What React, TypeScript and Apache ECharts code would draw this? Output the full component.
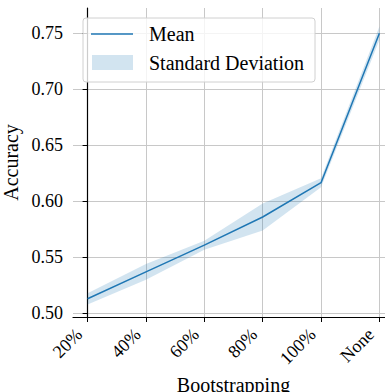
import React, { useEffect, useRef } from "react";
import * as echarts from "echarts";

const categories = ["20%", "40%", "60%", "80%", "100%", "None"];
const meanValues = [0.5125, 0.5366, 0.5605, 0.5857, 0.6164, 0.7502];
const stdValues = [0.005, 0.007, 0.004, 0.012, 0.004, 0.006];
const yTicks = [0.5, 0.55, 0.6, 0.65, 0.7, 0.75];

const FONT = "Liberation Serif";
const BLUE = "#1f77b4";

export default function App() {
  const ref = useRef<HTMLDivElement>(null);
  useEffect(() => {
    document.body.style.margin = "0";
    const chart = echarts.init(ref.current!, null, { renderer: "svg" });
    const xIdx = categories.map((_, i) => i);
    const bandData = meanValues.map((m, i) => [i, m - stdValues[i], m + stdValues[i]]);
    const mean = meanValues.map((m, i) => [i, m]);
    chart.setOption({
      animation: false,
      grid: {
        left: 73,
        top: 8,
        right: -9,
        bottom: 75,
        containLabel: false,
        outerBoundsMode: "none",
      },
      xAxis: {
        type: "value",
        min: -0.25,
        max: 5.25,
        name: "Bootstrapping",
        nameLocation: "middle",
        nameGap: 56,
        nameTextStyle: { fontFamily: FONT, fontSize: 20, color: "#000" },
        axisLine: { show: true, lineStyle: { color: "#000", width: 1.2 } },
        axisTick: { show: true, customValues: xIdx, length: 5, lineStyle: { color: "#000" } },
        axisLabel: {
          customValues: xIdx,
          rotate: 45,
          margin: 6,
          padding: [0, 12, 0, 0],
          fontFamily: FONT,
          fontSize: 18,
          color: "#000",
          hideOverlap: false,
          formatter: (v: number) => categories[Math.round(v)] ?? "",
        },
        splitLine: { show: true, lineStyle: { color: "#c8c8c8", width: 1 } },
      },
      yAxis: {
        type: "value",
        min: 0.4962,
        max: 0.7728,
        name: "Accuracy",
        nameLocation: "middle",
        nameGap: 44,
        nameTextStyle: { fontFamily: FONT, fontSize: 20, color: "#000" },
        axisLine: { show: true, lineStyle: { color: "#000", width: 1.2 } },
        axisTick: { show: true, customValues: yTicks, length: 5, lineStyle: { color: "#000" } },
        axisLabel: {
          customValues: yTicks,
          margin: 10,
          fontFamily: FONT,
          fontSize: 18,
          color: "#000",
          formatter: (v: number) => v.toFixed(2),
        },
        splitLine: { show: true, lineStyle: { color: "#c8c8c8", width: 1 } },
      },
      series: [
        {
          name: "Standard Deviation",
          type: "custom",
          data: bandData,
          encode: { x: 0, y: [1, 2] },
          silent: true,
          z: 2,
          renderItem: (params: any, api: any) => {
            if (params.dataIndex !== 0) return null;
            const n = bandData.length;
            const top: number[][] = [];
            const bot: number[][] = [];
            for (let i = 0; i < n; i++) {
              top.push(api.coord([bandData[i][0], bandData[i][2]]));
              bot.push(api.coord([bandData[i][0], bandData[i][1]]));
            }
            return {
              type: "polygon",
              shape: { points: top.concat(bot.reverse()) },
              style: { fill: "rgba(31,119,180,0.2)" },
            };
          },
        },
        {
          name: "Mean",
          type: "line",
          data: mean,
          symbol: "none",
          lineStyle: { color: BLUE, width: 1.5 },
          z: 5,
        },
      ],
      graphic: [
        {
          type: "rect",
          shape: { x: 83, y: 18, width: 232, height: 64, r: 3 },
          style: { fill: "rgba(255,255,255,0.8)", stroke: "#d0d0d0", lineWidth: 1 },
          z: 10,
        },
        {
          type: "line",
          shape: { x1: 91, y1: 34, x2: 133, y2: 34 },
          style: { stroke: BLUE, lineWidth: 1.5 },
          z: 11,
        },
        {
          type: "rect",
          shape: { x: 92, y: 55, width: 41, height: 15 },
          style: { fill: "rgba(31,119,180,0.2)" },
          z: 11,
        },
        {
          type: "text",
          x: 149,
          y: 34,
          style: { text: "Mean", fontFamily: FONT, fontSize: 20, fill: "#000", verticalAlign: "middle" },
          z: 11,
        },
        {
          type: "text",
          x: 149,
          y: 63,
          style: { text: "Standard Deviation", fontFamily: FONT, fontSize: 20, fill: "#000", verticalAlign: "middle" },
          z: 11,
        },
      ],
    });
    return () => chart.dispose();
  }, []);
  return <div ref={ref} style={{ width: 385, height: 392 }} />;
}
